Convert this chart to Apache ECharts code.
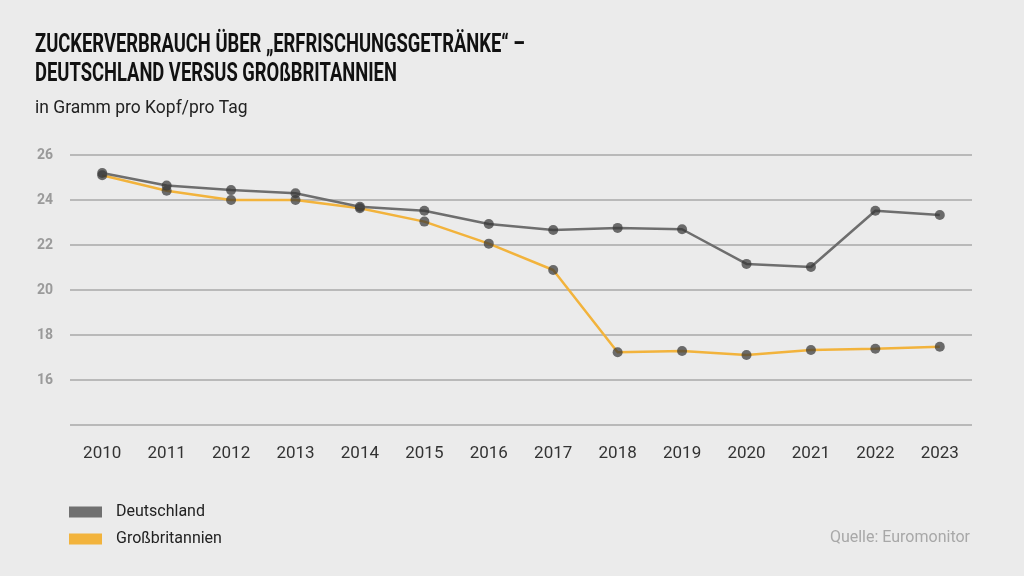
<!DOCTYPE html>
<html><head><meta charset="utf-8">
<script src="https://cdn.jsdelivr.net/npm/echarts@6/dist/echarts.min.js"></script>
<style>html,body{margin:0;padding:0;background:#ebebeb}#c{width:1024px;height:576px}</style>
</head><body><div id="c"></div>
<script>
const years = ['2010','2011','2012','2013','2014','2015','2016','2017','2018','2019','2020','2021','2022','2023'];
const deutschland = [25.2, 24.64, 24.44, 24.3, 23.7, 23.52, 22.93, 22.67, 22.76, 22.7, 21.16, 21.02, 23.52, 23.33];
const grossbritannien = [25.1, 24.41, 24.0, 24.0, 23.63, 23.04, 22.06, 20.89, 17.23, 17.29, 17.11, 17.33, 17.39, 17.48];
const yTicks = [14, 16, 18, 20, 22, 24, 26];

const FONT = 'Roboto, "DejaVu Sans Condensed", sans-serif';
const chart = echarts.init(document.getElementById('c'));
const marker = {color: 'rgba(55,55,55,0.72)'};
chart.setOption({
  backgroundColor: '#ebebeb',
  textStyle: {fontFamily: FONT},
  grid: {left: 70, right: 52, top: 155, bottom: 151, containLabel: false},
  legend: {
    orient: 'vertical', left: 69, top: 504, padding: 0, itemWidth: 33, itemHeight: 11, itemGap: 11,
    icon: 'rect',
    textStyle: {fontFamily: FONT, fontSize: 16, color: '#222', padding: [0,0,0,9]},
    data: [
      {name: 'Deutschland', itemStyle: {color: '#707070'}},
      {name: 'Großbritannien', itemStyle: {color: '#f2b33c'}}
    ]
  },
  xAxis: {
    type: 'category', data: years, boundaryGap: true,
    axisLine: {show: false}, axisTick: {show: false},
    axisLabel: {fontFamily: FONT, fontSize: 17, color: '#333', margin: 20}
  },
  yAxis: {
    type: 'value', min: 14, max: 26, interval: 2,
    axisLine: {show: false}, axisTick: {show: false},
    splitLine: {lineStyle: {color: '#a8a8a8', width: 1.5}},
    axisLabel: {
      fontFamily: FONT, fontSize: 14, fontWeight: 'bold', color: '#9a9a9a', margin: 17,
      formatter: v => (v === yTicks[0] ? '' : String(v))
    }
  },
  graphic: [{
    type: 'text', x: 35, y: 33, scaleX: 0.735,
    style: {text: 'ZUCKERVERBRAUCH ÜBER „ERFRISCHUNGSGETRÄNKE“ –', font: 'bold 25px ' + FONT, fill: '#111', textVerticalAlign: 'top'}
  }, {
    type: 'text', x: 35, y: 62, scaleX: 0.735,
    style: {text: 'DEUTSCHLAND VERSUS GROßBRITANNIEN', font: 'bold 25px ' + FONT, fill: '#111', textVerticalAlign: 'top'}
  }, {
    type: 'text', x: 35, y: 99, scaleX: 0.92,
    style: {text: 'in Gramm pro Kopf/pro Tag', font: '19px ' + FONT, fill: '#222', textVerticalAlign: 'top'}
  }, {
    type: 'text', right: 54, top: 530,
    style: {text: 'Quelle: Euromonitor', font: '16px ' + FONT, fill: '#a8a8a8'}
  }],
  series: [{
    name: 'Deutschland', type: 'line', data: deutschland,
    symbol: 'circle', symbolSize: 10, showSymbol: true,
    lineStyle: {color: '#6e6e6e', width: 2.5},
    itemStyle: marker, z: 3
  }, {
    name: 'Großbritannien', type: 'line', data: grossbritannien,
    symbol: 'circle', symbolSize: 10, showSymbol: true,
    lineStyle: {color: '#f2b33c', width: 2.5},
    itemStyle: marker, z: 2
  }]
});
</script></body></html>
